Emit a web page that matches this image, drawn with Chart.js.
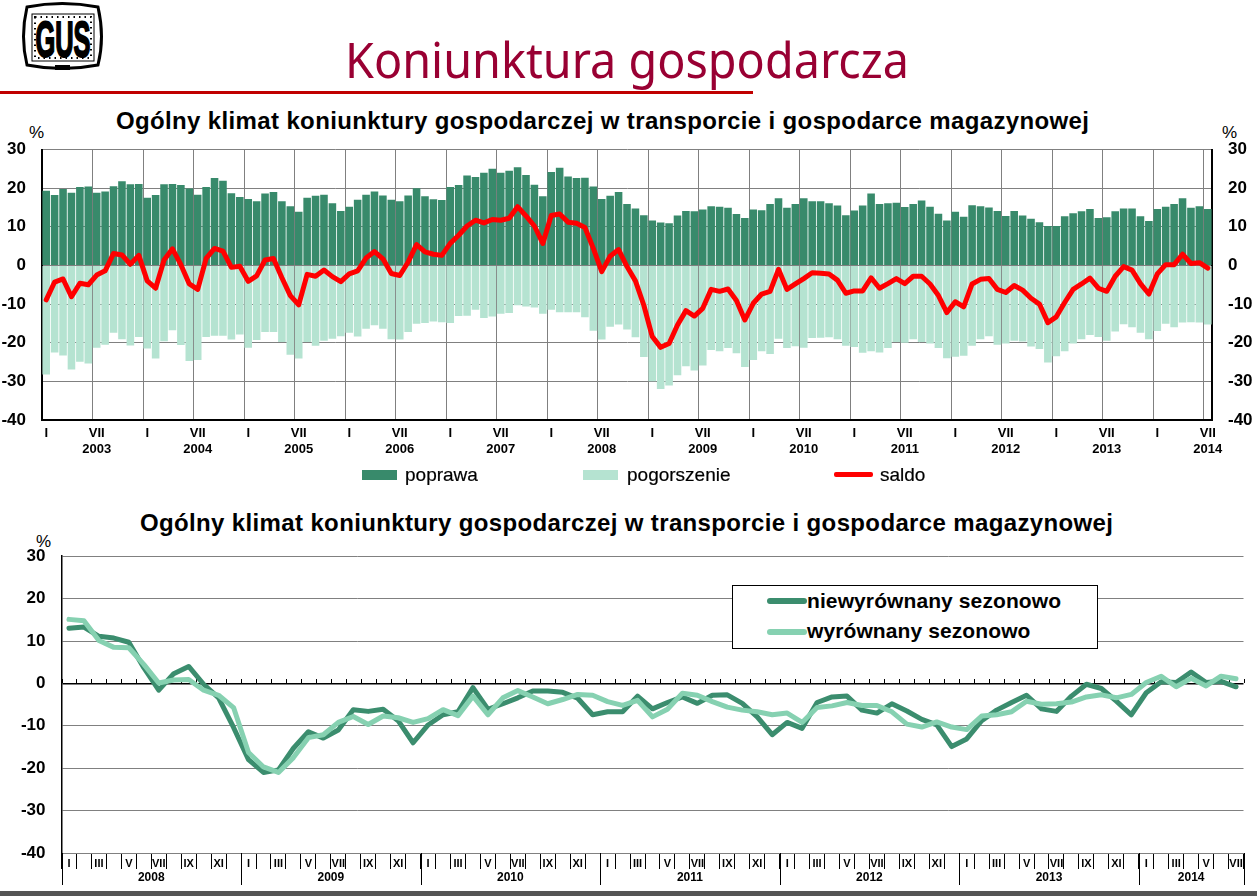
<!DOCTYPE html>
<html lang="pl">
<head>
<meta charset="utf-8">
<title>Koniunktura gospodarcza</title>
<script src="https://cdn.jsdelivr.net/npm/chart.js@4"></script>
<style>
html, body { margin: 0; padding: 0; background: #fff; }
body { position: relative; width: 1257px; height: 896px; overflow: hidden; font-family: "Liberation Sans", Arial, sans-serif; color: #000; }
canvas { position: absolute; left: 0; }
.txt { position: absolute; white-space: nowrap; line-height: 1; }
#tytul { left: 345px; top: 25px; font: 50px "Noto Sans", sans-serif; line-height: 1.362; color: #990033; transform: scaleX(0.935); transform-origin: left top; }
#kreska { position: absolute; left: 0; top: 91px; width: 753px; height: 3px; background: #c00000; }
.naglowek { font-weight: bold; font-size: 24px; letter-spacing: 0.36px; }
.proc { font-size: 17px; }
.leg { font-size: 19px; -webkit-text-stroke: 0.2px #000; }
#ramka { position: absolute; left: 732px; top: 585px; width: 364px; height: 62px; border: 1px solid #000; background: #fff; z-index: 2; }
.leg2 { font-size: 21px; font-weight: bold; letter-spacing: 0.1px; z-index: 3; }
.probka { position: absolute; z-index: 3; }
#pas { position: absolute; left: 0; top: 891px; width: 1257px; height: 5px; background: #555; }
#logo { position: absolute; left: 22px; top: 2px; }
</style>
</head>
<body>
<svg id="logo" width="82" height="72" viewBox="0 0 82 72">
  <path d="M5 5 Q40 -2 76 5 Q83 35 76 63 Q40 70 5 63 Q-2 35 5 5 Z" fill="#fff" stroke="#000" stroke-width="3"/>
  <rect x="10" y="12" width="62" height="47" fill="#fff" stroke="#000" stroke-width="1"/>
  <rect x="13" y="15" width="56" height="41" fill="none" stroke="#000" stroke-width="2" stroke-dasharray="1.5 4"/>
  <text x="41" y="55" text-anchor="middle" font-family="Liberation Sans" font-weight="bold" font-size="50" stroke="#000" stroke-width="2" textLength="55" lengthAdjust="spacingAndGlyphs">GUS</text>
  <rect x="33" y="63" width="15" height="5" fill="#000"/>
</svg>
<div id="tytul" class="txt">Koniunktura gospodarcza</div>
<div id="kreska"></div>

<div class="txt naglowek" style="left:116px;top:109px">Ogólny klimat koniunktury gospodarczej w transporcie i gospodarce magazynowej</div>
<div class="txt proc" style="left:29px;top:124px">%</div>
<div class="txt proc" style="left:1222px;top:124px">%</div>
<canvas id="wykresGorny" width="1257" height="370" style="top:100px"></canvas>

<div class="txt naglowek" style="left:140px;top:511px">Ogólny klimat koniunktury gospodarczej w transporcie i gospodarce magazynowej</div>
<div class="txt proc" style="left:36px;top:533px">%</div>
<canvas id="wykresDolny" width="1257" height="360" style="top:530px"></canvas>

<div id="legendaGorna"></div>
<div id="ramka"></div>
<div id="legendaDolna"></div>
<div id="pas"></div>

<script>
// Wykres gorny: styczen 2003 - lipiec 2014
const lataGorne = [2003, 2004, 2005, 2006, 2007, 2008, 2009, 2010, 2011, 2012, 2013, 2014];
const miesiaceRzym = ['I', 'II', 'III', 'IV', 'V', 'VI', 'VII', 'VIII', 'IX', 'X', 'XI', 'XII'];
const poprawa = [
    19.3, 18.2, 19.8, 18.8, 20.3, 20.4, 18.8, 19.1, 20.5, 21.8, 21, 21.1,
    17.5, 18.2, 21, 21.1, 20.8, 19.9, 18.3, 20.3, 22.6, 21.9, 18.7, 17.7,
    17.2, 16.6, 18.6, 19, 16.6, 15.3, 13.9, 17.5, 18, 18.3, 16.1, 14.1,
    15.2, 17, 18.3, 19.1, 18.1, 17, 16.6, 18.1, 20, 17.9, 17.1, 16.9,
    20.3, 20.8, 23.3, 22.9, 24, 25, 24, 24.5, 25.4, 23.4, 20.9, 17.9,
    24.2, 25.3, 23, 22.6, 22.7, 20.4, 17.2, 18, 19, 15.9, 14.7, 13,
    11.6, 11.1, 10.9, 12.9, 14.1, 14, 14.5, 15.3, 15.2, 14.9, 13.3, 12.3,
    14.5, 14.3, 15.9, 17.4, 14.9, 15.9, 17.4, 16.6, 16.6, 16.1, 15.5, 13,
    14.2, 15.5, 18.6, 15.9, 16.1, 16.2, 15.1, 15.9, 16.8, 15.2, 13.4, 11.6,
    13.9, 12.6, 15.6, 15.3, 15, 14.1, 12.8, 14.1, 12.9, 12.1, 11.2, 10.2,
    10.2, 12.7, 13.5, 14, 14.6, 12.3, 12.5, 14, 14.7, 14.7, 12.7, 11.5,
    14.6, 15.2, 15.9, 17.4, 14.9, 15.3, 14.6
];
const pogorszenie = [
    -28.2, -22.5, -23.3, -26.9, -24.9, -25.4, -21.3, -20.5, -17.4, -19.1, -20.7, -18.5,
    -21.5, -24.1, -19.6, -16.8, -20.6, -24.7, -24.5, -18.5, -18.2, -18.2, -19.2, -17.9,
    -21.3, -19.3, -17.2, -17.2, -19.8, -23.1, -24.1, -19.8, -20.8, -19.5, -19, -18.3,
    -17.4, -18.4, -16.4, -15.5, -16.4, -19.1, -19.2, -17.2, -15.1, -14.9, -14.5, -14.7,
    -14.9, -13.1, -13, -11.5, -13.6, -13.2, -12.5, -12.3, -10.3, -10.6, -10.9, -12.5,
    -11.5, -12.1, -12.1, -12.1, -13.4, -16.9, -19.2, -15.9, -15.3, -16.6, -18.6, -23.7,
    -30, -32, -31.1, -28.4, -26.1, -27.2, -25.9, -21.9, -22.2, -21.4, -22.7, -26.3,
    -24.5, -22.2, -22.9, -19, -21.4, -20.9, -21.3, -18.8, -18.7, -18.6, -19.1, -20.8,
    -21.1, -22.6, -22.2, -22.5, -21.4, -19.8, -20, -19.1, -19.8, -20.2, -21.4, -24,
    -23.6, -23.4, -20.8, -19.1, -18.3, -20.5, -20.2, -19.5, -19.7, -21, -21.6, -25.1,
    -23.5, -22.2, -20.2, -19.1, -18, -18.5, -19.5, -17.1, -15.2, -16, -17.4, -19.1,
    -17, -15.1, -16, -14.8, -14.7, -14.8, -15.3
];
const saldo = [
    -8.9, -4.3, -3.5, -8.1, -4.6, -5, -2.5, -1.4, 3.1, 2.7, 0.3, 2.6,
    -4, -5.9, 1.4, 4.3, 0.2, -4.8, -6.2, 1.8, 4.4, 3.7, -0.5, -0.2,
    -4.1, -2.7, 1.4, 1.8, -3.2, -7.8, -10.2, -2.3, -2.8, -1.2, -2.9, -4.2,
    -2.2, -1.4, 1.9, 3.6, 1.7, -2.1, -2.6, 0.9, 5.4, 3.5, 2.9, 2.6,
    5.7, 7.8, 10.2, 11.7, 11, 11.9, 11.7, 12.2, 15.2, 12.8, 10.2, 5.7,
    12.9, 13.3, 11.2, 10.9, 9.8, 4.4, -1.6, 2.4, 4.1, -0.3, -4, -10.3,
    -18.4, -21.2, -20.2, -15.4, -11.7, -13.1, -11.1, -6.2, -6.7, -6.1, -9.1, -14.1,
    -9.8, -7.4, -6.7, -1, -6.2, -4.8, -3.4, -1.9, -2, -2.2, -3.8, -7.2,
    -6.6, -6.6, -3.2, -5.9, -4.7, -3.4, -4.7, -2.8, -2.8, -4.8, -7.8, -12.2,
    -9.4, -10.7, -4.8, -3.6, -3.4, -6.2, -7, -5.2, -6.4, -8.5, -10, -14.8,
    -13.3, -9.6, -6.2, -4.8, -3.3, -5.9, -6.7, -2.8, -0.3, -1.2, -4.7, -7.4,
    -2.2, 0.2, 0.2, 2.9, 0.5, 0.7, -0.7
];

// Wykres dolny: styczen 2008 - lipiec 2014
const lataDolne = [2008, 2009, 2010, 2011, 2012, 2013, 2014];
const niewyrownany = [
    13, 13.3, 11.1, 10.7, 9.7, 3.7, -1.6, 2.3, 4, -0.2, -3.4, -10.4,
    -18, -21, -20.4, -15.3, -11.4, -12.9, -11, -6.2, -6.6, -6.1, -8.8, -14,
    -9.8, -7.4, -6.7, -1, -6.1, -4.8, -3.4, -1.8, -1.8, -2.1, -3.5, -7.4,
    -6.7, -6.7, -3, -6, -4.5, -3.2, -4.7, -2.8, -2.7, -4.7, -7.9, -12.1,
    -9.2, -10.6, -4.5, -3.2, -3, -6.3, -7, -4.8, -6.5, -8.5, -9.8, -14.9,
    -13.1, -8.8, -6.3, -4.5, -2.8, -6, -6.6, -3, -0.2, -1.2, -4.2, -7.4,
    -2.2, 0.4, 0.2, 2.7, 0.2, 0.5, -0.8
];
const wyrownany = [
    15.1, 14.8, 10.1, 8.5, 8.4, 4.5, 0.1, 0.8, 0.9, -1.6, -2.8, -5.7,
    -16.3, -19.7, -21, -17.5, -12.8, -12.1, -9.2, -7.8, -9.7, -7.7, -8.1, -9.2,
    -8.3, -6.2, -7.6, -3, -7.4, -3.4, -1.7, -3.2, -4.8, -3.8, -2.6, -2.8,
    -4.3, -5.2, -4, -7.9, -6.1, -2.3, -2.8, -4.3, -5.6, -6.3, -6.7, -7.4,
    -7, -9.2, -5.7, -5.3, -4.5, -5.2, -5.2, -6.7, -9.6, -10.3, -9.1, -10.3,
    -10.9, -7.7, -7.4, -6.7, -4.2, -4.9, -4.8, -4.4, -3.2, -2.7, -3.4, -2.6,
    0.2, 1.7, -0.8, 1.2, -0.6, 1.7, 1.1
];

const SZARY = '#808080';
const CIEMNY = '#388a6b';
const JASNY = '#b5e3d1';
const CIEMNA_LINIA = '#3b8d6e';
const JASNA_LINIA = '#86d1b1';

document.addEventListener('DOMContentLoaded', function() {
    initWykresGorny();
    initWykresDolny();
    initLegendy();
});

// etykiety miesiecy, np. "2003-I"
function etykiety(lata, ile) {
    const wynik = [];
    lata.forEach(function(rok) {
        miesiaceRzym.forEach(function(m) {
            if (wynik.length < ile) wynik.push(rok + '-' + m);
        });
    });
    return wynik;
}

function initWykresGorny() {
    const ctx = document.getElementById('wykresGorny').getContext('2d');
    new Chart(ctx, {
        type: 'bar',
        data: {
            labels: etykiety(lataGorne, poprawa.length),
            datasets: [
                { label: 'saldo', type: 'line', data: saldo, borderColor: '#ff0000', borderWidth: 5, pointRadius: 0, tension: 0, borderCapStyle: 'round', borderJoinStyle: 'round', order: 0 },
                { label: 'poprawa', data: poprawa, backgroundColor: CIEMNY, grouped: false, barPercentage: 0.9, categoryPercentage: 1, order: 1 },
                { label: 'pogorszenie', data: pogorszenie, backgroundColor: JASNY, grouped: false, barPercentage: 0.9, categoryPercentage: 1, order: 2 }
            ]
        },
        options: {
            responsive: false,
            animation: false,
            devicePixelRatio: 1,
            layout: { padding: { top: 49.5 } },
            plugins: { legend: { display: false }, tooltip: { enabled: false } },
            scales: {
                x: {
                    type: 'category',
                    offset: true,
                    afterFit: function(s) { s.height = 20; },
                    border: { color: '#000', width: 2 },
                    grid: {
                        offset: true,
                        drawTicks: false,
                        color: function(c) { return c.index % 6 === 0 ? SZARY : 'rgba(0,0,0,0)'; }
                    },
                    ticks: {
                        autoSkip: false, maxRotation: 0, padding: 6, color: '#000',
                        font: { family: 'Liberation Sans', size: 13, weight: 'bold' },
                        callback: function(v, i) { return i % 12 === 0 ? 'I' : (i % 12 === 6 ? 'VII' : ''); }
                    }
                },
                x2: {
                    type: 'category',
                    axis: 'x',
                    position: 'bottom',
                    offset: true,
                    afterFit: function(s) { s.height = 30; },
                    border: { display: false },
                    grid: { display: false, drawTicks: false },
                    ticks: {
                        autoSkip: false, maxRotation: 0, padding: 2, color: '#000',
                        font: { family: 'Liberation Sans', size: 13, weight: 'bold' },
                        callback: function(v, i) { return i % 12 === 6 ? String(lataGorne[(i - 6) / 12]) : ''; }
                    }
                },
                y: {
                    min: -40, max: 30,
                    afterFit: function(s) { s.width = 42; },
                    border: { color: '#000', width: 2 },
                    grid: { color: SZARY, drawTicks: false },
                    ticks: { stepSize: 10, padding: 16, color: '#000', font: { family: 'Liberation Sans', size: 17, weight: 'bold' } }
                },
                y2: {
                    type: 'linear',
                    axis: 'y',
                    position: 'right',
                    min: -40, max: 30,
                    afterFit: function(s) { s.width = 45; },
                    border: { color: '#000', width: 2 },
                    grid: { drawOnChartArea: false, drawTicks: false },
                    ticks: { stepSize: 10, padding: 16, color: '#000', font: { family: 'Liberation Sans', size: 17, weight: 'bold' } }
                }
            }
        }
    });
}

// kreski na osi zero oraz podzial na lata pod wykresem
const osDolna = {
    id: 'osDolna',
    beforeDatasetsDraw: function(chart) {
        const c = chart.ctx, x = chart.scales.x, y = chart.scales.y;
        const y0 = Math.round(y.getPixelForValue(0));
        const krok = x.getPixelForValue(1) - x.getPixelForValue(0);
        c.save();
        c.strokeStyle = '#000';
        c.lineWidth = 1;
        for (let i = 0; i <= niewyrownany.length; i++) {
            const px = Math.round(x.getPixelForValue(i) - krok / 2) + 0.5;
            c.beginPath();
            c.moveTo(px, y0);
            c.lineTo(px, y0 - 4);
            c.stroke();
        }
        c.restore();
    },
    afterDraw: function(chart) {
        const c = chart.ctx, x = chart.scales.x, y = chart.scales.y;
        const krok = x.getPixelForValue(1) - x.getPixelForValue(0);
        const dol = y.bottom;
        c.save();
        c.strokeStyle = '#000';
        c.fillStyle = '#000';
        c.lineWidth = 1;
        c.font = 'bold 12px "Liberation Sans"';
        c.textAlign = 'center';
        c.textBaseline = 'middle';
        lataDolne.forEach(function(rok, n) {
            const od = n * 12;
            const ile = Math.min(12, niewyrownany.length - od);
            const lewy = x.getPixelForValue(od) - krok / 2;
            const prawy = lewy + ile * krok;
            [lewy, prawy].forEach(function(px) {
                const p = Math.round(px) + 0.5;
                c.beginPath();
                c.moveTo(p, dol);
                c.lineTo(p, dol + 32);
                c.stroke();
            });
            c.fillText(String(rok), (lewy + prawy) / 2, dol + 25);
        });
        c.restore();
    }
};

function initWykresDolny() {
    const ctx = document.getElementById('wykresDolny').getContext('2d');
    new Chart(ctx, {
        type: 'line',
        data: {
            labels: etykiety(lataDolne, niewyrownany.length),
            datasets: [
                { label: 'wyrównany sezonowo', data: wyrownany, borderColor: JASNA_LINIA, borderWidth: 5, pointRadius: 0, tension: 0, borderCapStyle: 'round', borderJoinStyle: 'round', order: 0 },
                { label: 'niewyrównany sezonowo', data: niewyrownany, borderColor: CIEMNA_LINIA, borderWidth: 5, pointRadius: 0, tension: 0, borderCapStyle: 'round', borderJoinStyle: 'round', order: 1 }
            ]
        },
        plugins: [osDolna],
        options: {
            responsive: false,
            animation: false,
            devicePixelRatio: 1,
            layout: { padding: { top: 24.5, right: 13.5 } },
            plugins: { legend: { display: false }, tooltip: { enabled: false } },
            scales: {
                x: {
                    type: 'category',
                    offset: true,
                    afterFit: function(s) { s.height = 37; },
                    border: { color: SZARY, width: 1 },
                    grid: { offset: true, drawOnChartArea: false, drawTicks: true, tickLength: 16, tickColor: '#000', tickWidth: 1 },
                    ticks: {
                        autoSkip: false, maxRotation: 0, padding: -12, color: '#000',
                        font: { family: 'Liberation Sans', size: 11, weight: 'bold' },
                        callback: function(v, i) { return i % 2 === 0 ? miesiaceRzym[i % 12] : ''; }
                    }
                },
                y: {
                    min: -40, max: 30,
                    afterFit: function(s) { s.width = 61.5; },
                    border: { color: '#000', width: 1.5 },
                    grid: {
                        drawTicks: false,
                        color: function(c) { return c.tick && c.tick.value === 0 ? '#000' : SZARY; },
                        lineWidth: function(c) { return c.tick && c.tick.value === 0 ? 1.5 : 1; }
                    },
                    ticks: { stepSize: 10, padding: 16, color: '#000', font: { family: 'Liberation Sans', size: 17, weight: 'bold' } }
                }
            }
        }
    });
}

function dodajTekst(klasa, tekst, x, y) {
    const el = document.createElement('div');
    el.className = 'txt ' + klasa;
    el.textContent = tekst;
    el.style.left = x + 'px';
    el.style.top = y + 'px';
    document.body.appendChild(el);
}

function dodajProbke(x, y, w, h, kolor, promien) {
    const el = document.createElement('div');
    el.className = 'probka';
    el.style.cssText = 'left:' + x + 'px;top:' + y + 'px;width:' + w + 'px;height:' + h + 'px;background:' + kolor + ';border-radius:' + promien + 'px';
    document.body.appendChild(el);
}

function initLegendy() {
    dodajProbke(362, 470, 35, 10, CIEMNY, 0);
    dodajTekst('leg', 'poprawa', 405, 465);
    dodajProbke(583, 470, 35, 10, JASNY, 0);
    dodajTekst('leg', 'pogorszenie', 627, 465);
    dodajProbke(834, 472, 39, 5, '#ff0000', 2);
    dodajTekst('leg', 'saldo', 880, 465);

    dodajProbke(767, 598, 40, 6, CIEMNA_LINIA, 3);
    dodajTekst('leg2', 'niewyrównany sezonowo', 807, 590);
    dodajProbke(767, 629, 40, 6, JASNA_LINIA, 3);
    dodajTekst('leg2', 'wyrównany sezonowo', 807, 620);
}
</script>
</body>
</html>
